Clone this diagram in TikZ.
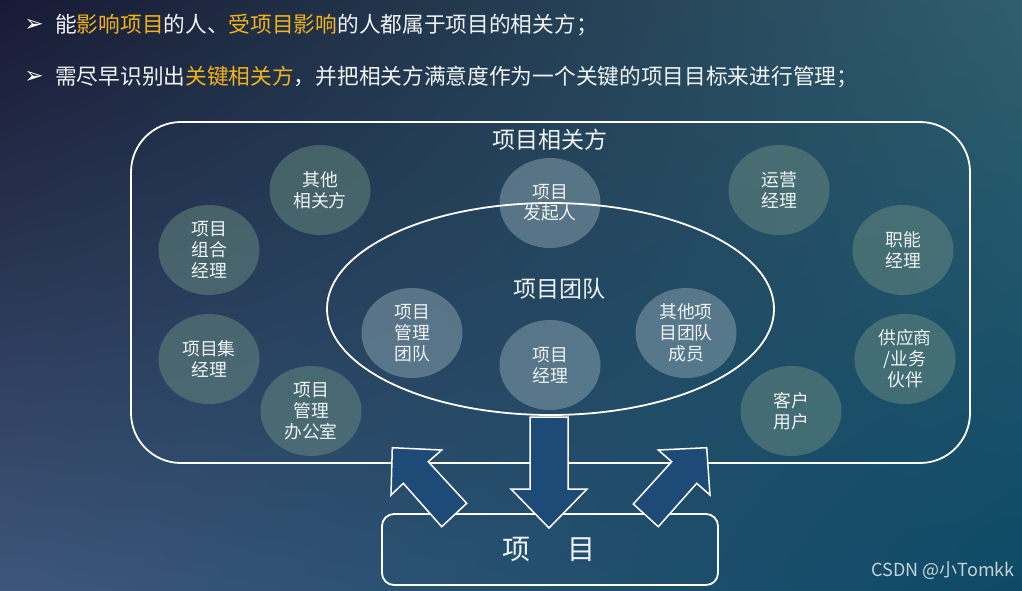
\documentclass[tikz,border=0pt]{standalone}
\usepackage{fontspec}
\setmainfont{Noto Sans CJK SC}
\newfontfamily\dejavu{DejaVu Sans}
\usetikzlibrary{shapes.geometric,shadings}
\definecolor{bgUL}{RGB}{24,26,52}
\definecolor{bgUR}{RGB}{48,94,110}
\definecolor{bgLL}{RGB}{62,86,122}
\definecolor{bgLR}{RGB}{12,74,102}
\definecolor{hl}{RGB}{242,178,27}
\definecolor{txt}{RGB}{240,244,246}
\definecolor{cOut}{RGB}{105,140,128}
\definecolor{cIn}{RGB}{140,165,176}
\definecolor{arrfill}{RGB}{30,74,120}
\definecolor{wm}{RGB}{200,210,218}
\tikzset{
  bubble/.style={ellipse, minimum width=101pt, minimum height=90pt, inner sep=0pt,
    align=center, text=txt, font=\fontsize{17.8}{21}\selectfont, text opacity=1},
  outerbubble/.style={bubble, fill=cOut, fill opacity=0.5},
  innerbubble/.style={bubble, fill=cIn, fill opacity=0.5},
  frame/.style={draw=white, line width=1.8pt},
  blockarrow/.style={fill=arrfill, draw=white, line width=1.5pt, line join=miter},
  bullettext/.style={anchor=west, text=txt, font=\fontsize{21.7}{24}\selectfont, inner sep=0pt},
  bulletmark/.style={text=white, font=\dejavu\fontsize{23}{24}\selectfont, inner sep=0pt},
  heading/.style={text=txt, font=\fontsize{23}{26}\selectfont, inner sep=0pt}
}
\begin{document}
\begin{tikzpicture}[x=1pt,y=-1pt]
\useasboundingbox (0,0) rectangle (1022,590);
\shade[upper left=bgUL, upper right=bgUR, lower left=bgLL, lower right=bgLR] (0,0) rectangle (1022,590);

% bullets
\node[bulletmark] (b1) at (34,25) {➢};
\node[bulletmark] (b2) at (34,77) {➢};
\node[bullettext] (t1) at (55,25) {能\textcolor{hl}{影响项目}的人、\textcolor{hl}{受项目影响}的人都属于项目的相关方；};
\node[bullettext] (t2) at (55,77) {需尽早识别出\textcolor{hl}{关键相关方}，并把相关方满意度作为一个关键的项目目标来进行管理；};

% stakeholder frame
\draw[frame, rounded corners=50pt] (131,122) rectangle (970,463);
\node[heading] (title) at (550,140) {项目相关方};

% outer bubbles
\node[outerbubble] (qt) at (320,190) {其他\\相关方};
\node[outerbubble] (zh) at (209,250) {项目\\组合\\经理};
\node[outerbubble] (xmj) at (209,359) {项目集\\经理};
\node[outerbubble] (bgs) at (311,411) {项目\\管理\\办公室};
\node[outerbubble] (yy) at (779,190) {运营\\经理};
\node[outerbubble] (zn) at (903,250) {职能\\经理};
\node[outerbubble] (gys) at (905,359) {供应商\\/业务\\伙伴};
\node[outerbubble] (kh) at (791,411) {客户\\用户};

% inner bubbles
\node[innerbubble] (fq) at (550,203) {项目\\发起人};
\node[innerbubble] (gl) at (412,333) {项目\\管理\\团队};
\node[innerbubble] (jl) at (550,365) {项目\\经理};
\node[innerbubble] (cy) at (686,333) {其他项\\目团队\\成员};

% team ellipse
\draw[frame] (550.5,309) ellipse [x radius=223.5, y radius=106];
\node[heading] (team) at (559,289) {项目团队};

% project box
\draw[frame, rounded corners=12pt] (382,514) rectangle (718,585);
\node[heading, font=\fontsize{28}{32}\selectfont] (proj) at (549,549) {项\hspace{37pt}目};

% block arrows
\draw[blockarrow] (530,417) -- (568,417) -- (568,489) -- (587,489) -- (549,528) -- (511,489) -- (530,489) -- cycle;
\draw[blockarrow] (392.3,447.7) -- (441.7,450) -- (428.3,461.7) -- (466.7,503.3) -- (441.7,526.7) -- (403.3,483.3) -- (391,495) -- cycle;
\draw[blockarrow] (706.7,447.7) -- (710,495) -- (696.7,483.3) -- (658.3,526.7) -- (633.3,504) -- (671.7,461.7) -- (658.3,450) -- cycle;

% watermark
\node[text=wm, font=\fontsize{18}{20}\selectfont, inner sep=0pt] (wmk) at (943,571) {CSDN @小Tomkk};
\end{tikzpicture}
\end{document}
